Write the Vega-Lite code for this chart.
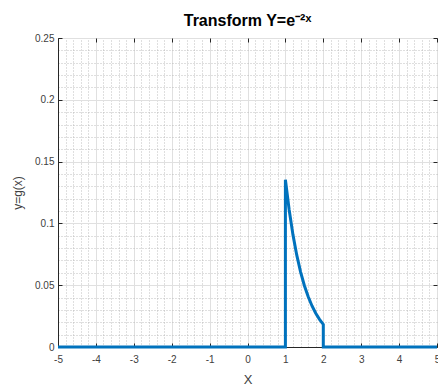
{
  "$schema": "https://vega.github.io/schema/vega-lite/v6.json",
  "width": 379,
  "height": 309,
  "autosize": {"type": "none"},
  "padding": {"left": 58, "top": 38, "right": 1, "bottom": 45},
  "background": "white",
  "config": {
    "view": {"stroke": "#262626", "strokeWidth": 1},
    "font": "Liberation Sans",
    "axis": {"labelFont": "Liberation Sans", "titleFont": "Liberation Sans"}
  },
  "title": {
    "text": "Transform Y=e⁻²ˣ",
    "fontSize": 16,
    "fontWeight": "bold",
    "color": "#000000",
    "offset": 4,
    "font": "Liberation Sans"
  },
  "data": {
    "values": [
      {"i": 0, "x": -5, "y": 0},
      {"i": 1, "x": 1, "y": 0},
      {"i": 2, "x": 1, "y": 0.1353},
      {"i": 3, "x": 1.1, "y": 0.1108},
      {"i": 4, "x": 1.2, "y": 0.0907},
      {"i": 5, "x": 1.3, "y": 0.0743},
      {"i": 6, "x": 1.4, "y": 0.0608},
      {"i": 7, "x": 1.5, "y": 0.0498},
      {"i": 8, "x": 1.6, "y": 0.0408},
      {"i": 9, "x": 1.7, "y": 0.0334},
      {"i": 10, "x": 1.8, "y": 0.0273},
      {"i": 11, "x": 1.9, "y": 0.0224},
      {"i": 12, "x": 2, "y": 0.0183},
      {"i": 13, "x": 2, "y": 0},
      {"i": 14, "x": 5, "y": 0}
    ]
  },
  "resolve": {"axis": {"x": "independent", "y": "independent"}},
  "layer": [
    {
      "mark": {"type": "line", "opacity": 0},
      "encoding": {
        "x": {"field": "x", "type": "quantitative", "scale": {"domain": [-5, 5], "nice": false, "zero": false},
          "axis": {"orient": "top", "values": [-4.8,-4.6,-4.4,-4.2,-3.8,-3.6,-3.4,-3.2,-2.8,-2.6,-2.4,-2.2,-1.8,-1.6,-1.4,-1.2,-0.8,-0.6,-0.4,-0.2,0.2,0.4,0.6,0.8,1.2,1.4,1.6,1.8,2.2,2.4,2.6,2.8,3.2,3.4,3.6,3.8,4.2,4.4,4.6,4.8],
            "grid": true, "gridDash": [1, 2], "gridColor": "#b0b0b0", "gridOpacity": 0.8, "labels": false, "ticks": false, "domain": false, "title": null}},
        "y": {"field": "y", "type": "quantitative", "scale": {"domain": [0, 0.25], "nice": false},
          "axis": {"orient": "right", "values": [0.01,0.02,0.03,0.04,0.06,0.07,0.08,0.09,0.11,0.12,0.13,0.14,0.16,0.17,0.18,0.19,0.21,0.22,0.23,0.24],
            "grid": true, "gridDash": [1, 2], "gridColor": "#b0b0b0", "gridOpacity": 0.8, "labels": false, "ticks": false, "domain": false, "title": null}},
        "order": {"field": "i", "type": "quantitative"}
      }
    },
    {
      "mark": {"type": "line", "opacity": 0},
      "encoding": {
        "x": {"field": "x", "type": "quantitative", "scale": {"domain": [-5, 5], "nice": false, "zero": false},
          "axis": {"orient": "top", "values": [-5,-4,-3,-2,-1,0,1,2,3,4,5], "grid": false, "labels": false, "ticks": true, "tickSize": -4, "tickColor": "#262626", "domain": false, "title": null}},
        "y": {"field": "y", "type": "quantitative", "scale": {"domain": [0, 0.25], "nice": false},
          "axis": {"orient": "right", "values": [0, 0.05, 0.1, 0.15, 0.2, 0.25], "grid": false, "labels": false, "ticks": true, "tickSize": -4, "tickColor": "#262626", "domain": false, "title": null}},
        "order": {"field": "i", "type": "quantitative"}
      }
    },
    {
      "mark": {"type": "line", "color": "#0072BD", "strokeWidth": 3},
      "encoding": {
        "x": {"field": "x", "type": "quantitative", "scale": {"domain": [-5, 5], "nice": false, "zero": false},
          "axis": {"orient": "bottom", "values": [-5,-4,-3,-2,-1,0,1,2,3,4,5], "grid": true, "gridColor": "#e0e0e0", "gridOpacity": 1,
            "ticks": true, "tickSize": -4, "tickColor": "#262626", "domainColor": "#262626", "labelColor": "#404040", "labelFontSize": 10, "labelPadding": 11, "labelFlush": false,
            "labelExpr": "datum.value + ''",
            "title": "X", "titleFontSize": 13, "titleFontWeight": "normal", "titleColor": "#404040", "titlePadding": 9}},
        "y": {"field": "y", "type": "quantitative", "scale": {"domain": [0, 0.25], "nice": false},
          "axis": {"orient": "left", "values": [0, 0.05, 0.1, 0.15, 0.2, 0.25], "grid": true, "gridColor": "#e0e0e0", "gridOpacity": 1,
            "ticks": true, "tickSize": -4, "tickColor": "#262626", "domainColor": "#262626", "labelColor": "#404040", "labelFontSize": 10, "labelPadding": 8,
            "labelExpr": "datum.value + ''",
            "title": "y=g(x)", "titleFontSize": 12, "titleFontWeight": "normal", "titleColor": "#404040", "titlePadding": 10}},
        "order": {"field": "i", "type": "quantitative"}
      }
    }
  ]
}
